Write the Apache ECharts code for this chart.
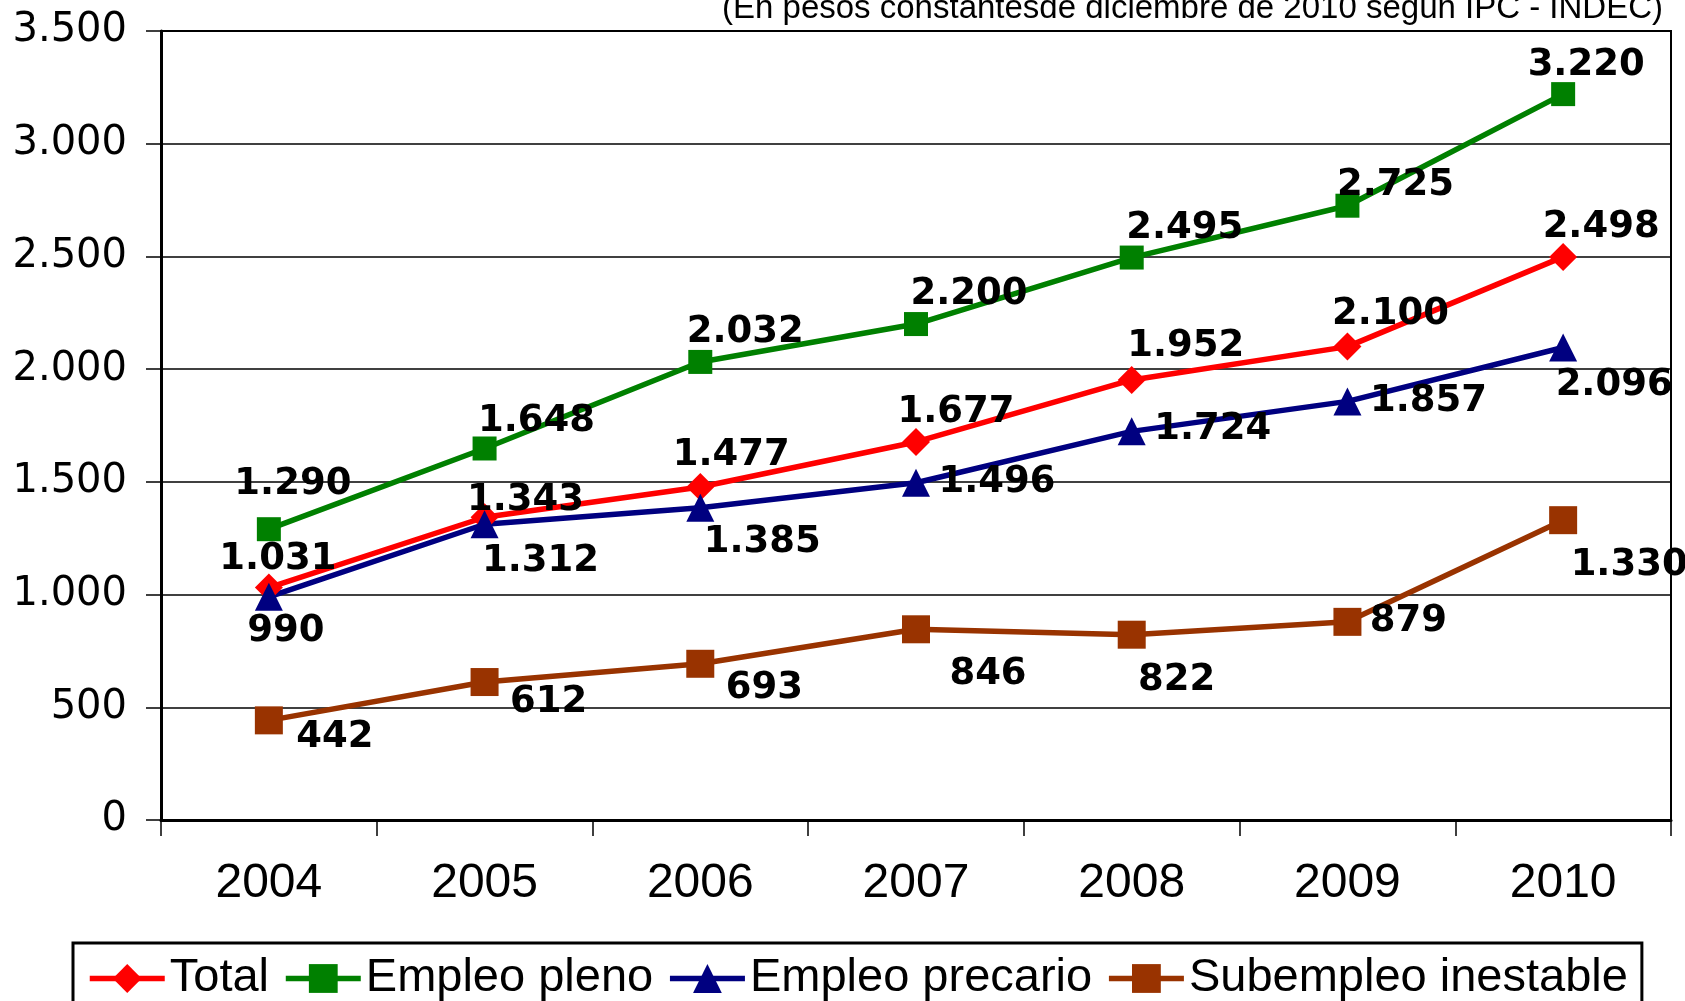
<!DOCTYPE html>
<html><head><meta charset="utf-8">
<script src="https://cdn.jsdelivr.net/npm/echarts@6/dist/echarts.min.js"></script>
<style>html,body{margin:0;padding:0;background:#fff}#c{width:1685px;height:1001px}</style>
</head><body><div id="c"></div>
<script>
const years = ['2004','2005','2006','2007','2008','2009','2010'];
const total = [1031, 1343, 1477, 1677, 1952, 2100, 2498];
const empleoPleno = [1290, 1648, 2032, 2200, 2495, 2725, 3220];
const empleoPrecario = [990, 1312, 1385, 1496, 1724, 1857, 2096];
const subempleo = [442, 612, 693, 846, 822, 879, 1330];
const subtitle = '(En pesos constantesde diciembre de 2010 según IPC - INDEC)';

// label offsets (styling only)
const offTotal = [[9,-28],[41,-17],[31,-32],[40,-30],[54,-34],[43,-32],[38,-29]];
const offPleno = [[24,-45],[52,-27],[45,-30],[53,-30],[53,-29],[48,-20],[23,-29]];
const offPrec = [[17,35],[56,37],[62,35],[81,0],[81,-2],[81,0],[51,38]];
const offSub = [[66,17],[64,20],[64,25],[72,45],[45,46],[61,0],[66,45]];

const fmt = v => String(v).replace(/\B(?=(\d{3})+(?!\d))/g, '.');
const narrow = "'Liberation Sans Narrow', 'Liberation Sans', sans-serif";

function mk(name, vals, offs, color, symbol, size) {
  return {
    name, type: 'line', data: vals.map((v, i) => ({
      value: v,
      label: { offset: offs[i] }
    })),
    symbol, symbolSize: size,
    lineStyle: { color, width: 5.5 },
    itemStyle: { color },
    label: {
      show: true, position: 'inside', color: '#000',
      fontFamily: 'DejaVu Sans', fontWeight: 'bold', fontSize: 37,
      formatter: p => fmt(p.value)
    },
    z: 3
  };
}

const chart = echarts.init(document.getElementById('c'), null, { renderer: 'canvas' });
chart.setOption({
  animation: false,
  graphic: [{
    type: 'text', right: 22, top: -8,
    style: { text: subtitle, font: "33px " + narrow, fill: '#000' }
  }],
  grid: { left: 161, right: 14, top: 31, bottom: 181, show: true, borderColor: '#000', borderWidth: 2 },
  legend: {
    left: 73, top: 943,
    padding: [12, 14, 30, 14],
    borderColor: '#000', borderWidth: 3,
    itemWidth: 75, itemHeight: 36, itemGap: 14,
    lineStyle: { width: 5.5 },
    textStyle: { fontFamily: narrow, fontSize: 47, color: '#000' },
    data: ['Total', 'Empleo pleno', 'Empleo precario', 'Subempleo inestable']
  },
  xAxis: {
    type: 'category', data: years, boundaryGap: true,
    axisLine: { lineStyle: { color: '#000', width: 3 } },
    axisTick: { show: true, length: 16, lineStyle: { color: '#000', width: 1.5 } },
    axisLabel: { margin: 40, fontFamily: narrow, fontSize: 48, color: '#000' }
  },
  yAxis: {
    type: 'value', min: 0, max: 3500, interval: 500,
    axisLine: { show: true, lineStyle: { color: '#000', width: 3 } },
    axisTick: { show: true, length: 15, lineStyle: { color: '#000', width: 1.5 } },
    splitLine: { lineStyle: { color: '#000', width: 1.5 } },
    axisLabel: { margin: 34, fontFamily: 'DejaVu Sans', fontSize: 40, color: '#000', formatter: fmt }
  },
  series: [
    mk('Total', total, offTotal, '#FF0000', 'diamond', 28),
    mk('Empleo pleno', empleoPleno, offPleno, '#008000', 'rect', 24),
    mk('Empleo precario', empleoPrecario, offPrec, '#000080', 'triangle', 28),
    mk('Subempleo inestable', subempleo, offSub, '#993300', 'rect', 28)
  ]
});
</script></body></html>
